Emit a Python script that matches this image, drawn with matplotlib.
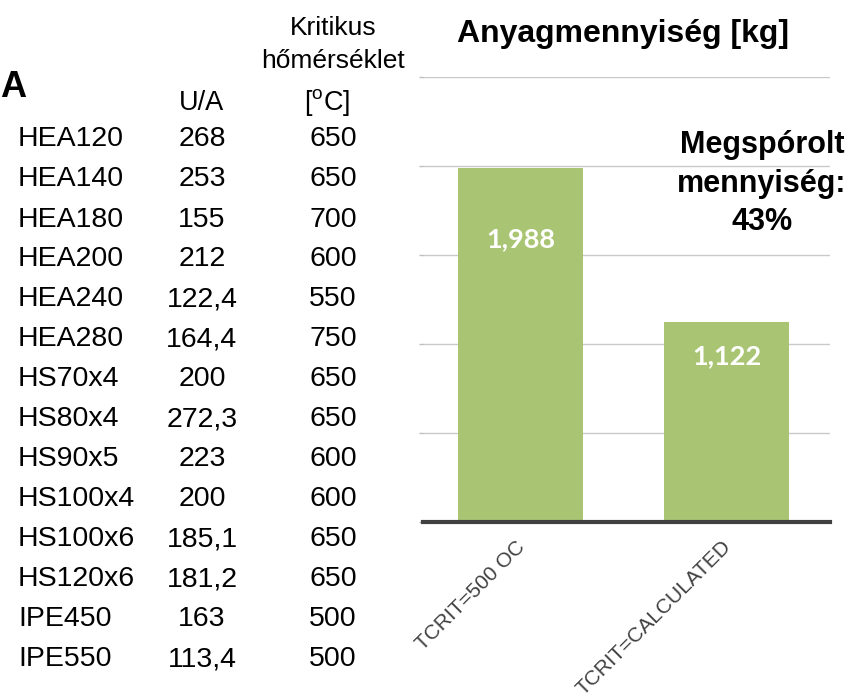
import numpy as np
import matplotlib.pyplot as plt
from matplotlib.transforms import ScaledTranslation

plt.rcParams['font.family'] = ['Liberation Sans', 'DejaVu Sans']

# table on the left
profiles = ['HEA120', 'HEA140', 'HEA180', 'HEA200', 'HEA240', 'HEA280', 'HS70x4',
            'HS80x4', 'HS90x5', 'HS100x4', 'HS100x6', 'HS120x6', 'IPE450', 'IPE550']
ua_values = ['268', '253', '155', '212', '122,4', '164,4', '200',
             '272,3', '223', '200', '185,1', '181,2', '163', '113,4']
crit_temps = [650, 650, 700, 600, 550, 750, 650, 650, 600, 600, 650, 650, 500, 500]

# bar chart
cases = ['TCRIT=500 OC', 'TCRIT=CALCULATED']
mass_kg = [1988, 1122]
saved_pct = 43

W, H = 853, 696
fig = plt.figure(figsize=(W / 100, H / 100), dpi=100)


def fx(px):
    return px / W


def fy(py):
    return 1 - py / H


# --- table ---
fig.text(fx(26), fy(97), 'A', ha='right', va='baseline', fontsize=26, fontweight='bold')
fig.text(fx(333), fy(35), 'Kritikus', ha='center', va='baseline', fontsize=19)
fig.text(fx(333), fy(68), 'hőmérséklet', ha='center', va='baseline', fontsize=19)
fig.text(fx(202), fy(110), 'U/A', ha='center', va='baseline', fontsize=19.5)
fig.text(fx(327), fy(110), r'[$^\mathregular{o}$C]', ha='center', va='baseline', fontsize=19.5)

row0, row_step = 146.5, 40.0
for i, (name, ua, t) in enumerate(zip(profiles, ua_values, crit_temps)):
    yb = fy(row0 + i * row_step)
    fig.text(fx(18), yb, name, ha='left', va='baseline', fontsize=20.5)
    fig.text(fx(202), yb, ua, ha='center', va='baseline', fontsize=20.5)
    fig.text(fx(333), yb, str(t), ha='center', va='baseline', fontsize=20.5)

# --- bar chart ---
ax = fig.add_axes([fx(423), fy(522), fx(830) - fx(423), (522 - 77) / H])
x = np.arange(len(cases))
ax.bar(x, mass_kg, width=0.605, color='#a9c574', zorder=2)
ax.set_xlim(-0.472, 1.499)
ax.set_ylim(0, 2500)
ax.set_yticks(np.arange(0, 2501, 500))
ax.set_yticklabels([])
ax.yaxis.grid(True, color='#c9c9c9', lw=1)
ax.set_axisbelow(True)
for s in ['top', 'right', 'left']:
    ax.spines[s].set_visible(False)
ax.spines['bottom'].set_color('#404040')
ax.spines['bottom'].set_linewidth(3)
ax.spines['bottom'].set_zorder(3)
ax.tick_params(axis='y', length=3, color='#bfbfbf', width=1)
ax.tick_params(axis='x', length=0, pad=11)
ax.set_xticks(x)
ax.set_xticklabels(cases, rotation=45, ha='right', fontsize=15, color='#404040')
shift = ScaledTranslation(8 / 100, 0, fig.dpi_scale_trans)
for lbl in ax.get_xticklabels():
    lbl.set_transform(lbl.get_transform() + shift)

label_offsets = [51, 24.5]
for i, v in enumerate(mass_kg):
    ax.annotate(f'{v:,}', (x[i], v), xytext=(0, -label_offsets[i]), textcoords='offset points',
                ha='center', va='center', color='white', fontsize=19.5, fontweight='bold',
                family='Lato', zorder=4)

fig.text(fx(623), fy(42), 'Anyagmennyiség [kg]', ha='center', va='baseline',
         fontsize=23, fontweight='bold')
for line, yb in zip(['Megspórolt', 'mennyiség:', f'{saved_pct}%'], [153, 192, 230]):
    fig.text(fx(762), fy(yb), line, ha='center', va='baseline', fontsize=22, fontweight='bold')

fig.savefig('out.png', dpi=100)
